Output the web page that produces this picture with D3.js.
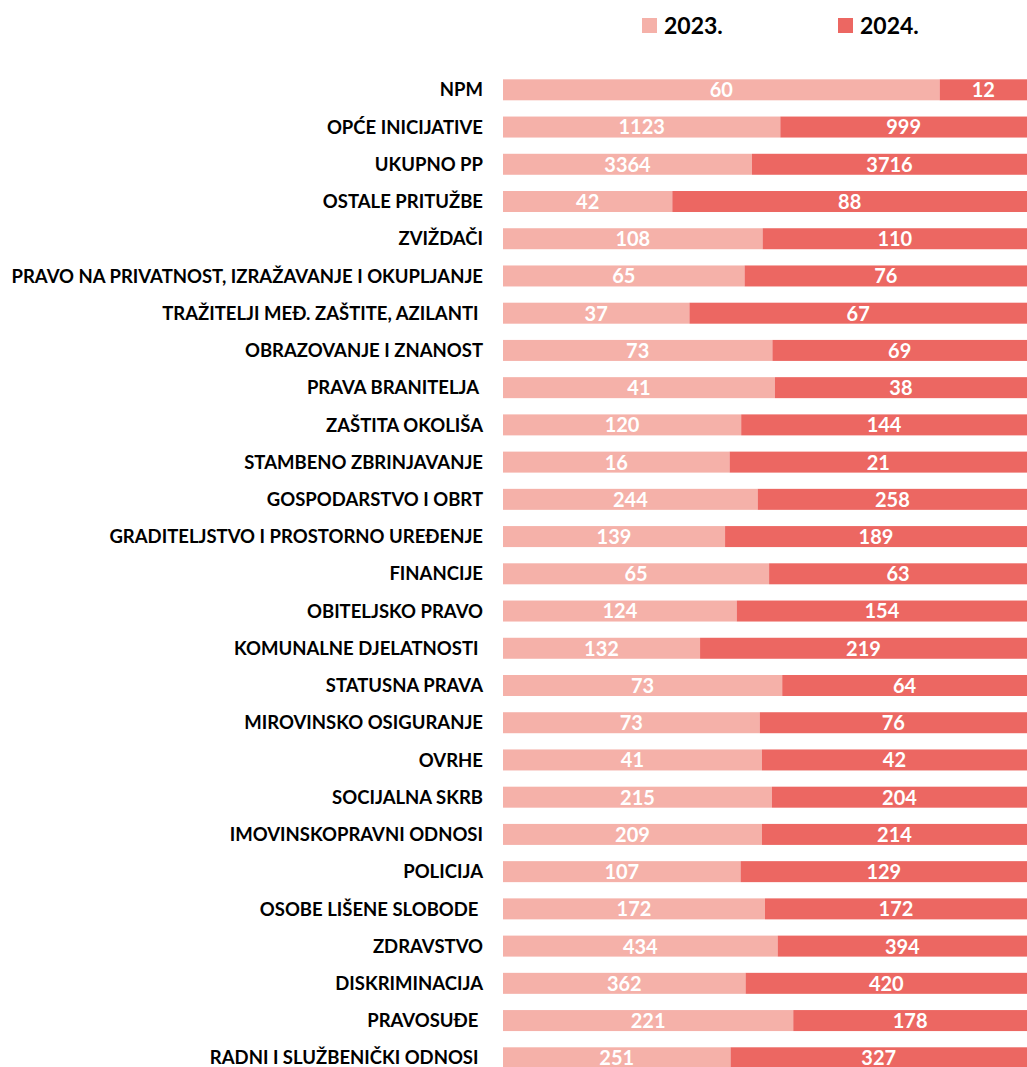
<!DOCTYPE html>
<html>
<head>
<meta charset="utf-8">
<script src="https://cdn.jsdelivr.net/npm/d3@7"></script>
<style>
  body { margin: 0; background: #fff; }
  text { font-family: Lato, "Open Sans", sans-serif; font-weight: bold; white-space: pre; }
</style>
</head>
<body>
<div id="chart"></div>
<script>
var categories = [
    "NPM", "OPĆE INICIJATIVE", "UKUPNO PP", "OSTALE PRITUŽBE", "ZVIŽDAČI",
    "PRAVO NA PRIVATNOST, IZRAŽAVANJE I OKUPLJANJE", "TRAŽITELJI MEĐ. ZAŠTITE, AZILANTI ",
    "OBRAZOVANJE I ZNANOST", "PRAVA BRANITELJA ", "ZAŠTITA OKOLIŠA", "STAMBENO ZBRINJAVANJE",
    "GOSPODARSTVO I OBRT", "GRADITELJSTVO I PROSTORNO UREĐENJE", "FINANCIJE", "OBITELJSKO PRAVO",
    "KOMUNALNE DJELATNOSTI ", "STATUSNA PRAVA", "MIROVINSKO OSIGURANJE", "OVRHE", "SOCIJALNA SKRB",
    "IMOVINSKOPRAVNI ODNOSI", "POLICIJA", "OSOBE LIŠENE SLOBODE ", "ZDRAVSTVO", "DISKRIMINACIJA",
    "PRAVOSUĐE ", "RADNI I SLUŽBENIČKI ODNOSI "
];
var values2023 = [60, 1123, 3364, 42, 108, 65, 37, 73, 41, 120, 16, 244, 139, 65, 124, 132, 73, 73, 41, 215, 209, 107, 172, 434, 362, 221, 251];
var values2024 = [12, 999, 3716, 88, 110, 76, 67, 69, 38, 144, 21, 258, 189, 63, 154, 219, 64, 76, 42, 204, 214, 129, 172, 394, 420, 178, 327];
var seriesNames = ["2023.", "2024."];
var colors = ["#F5B1A9", "#EC6762"];

function init() {
    var w = 1027;
    var h = 1067;

    var svg = d3.select("#chart")
        .append("svg")
        .attr("width", w)
        .attr("height", h);

    var rows = categories.map(function(c, i) {
        return { cat: c, "2023.": values2023[i], "2024.": values2024[i] };
    });

    var stacked = d3.stack()
        .keys(seriesNames)
        .offset(d3.stackOffsetExpand)(rows);

    var step = 37.23;
    var y = d3.scaleBand()
        .domain(categories)
        .range([71.2, 71.2 + categories.length * step])
        .paddingInner(0.436)
        .paddingOuter(0.218);

    var x = d3.scaleLinear()
        .domain([0, 1])
        .range([503, 1027]);

    var groups = svg.selectAll("g.series")
        .data(stacked)
        .enter()
        .append("g")
        .attr("class", "series")
        .attr("fill", function(d, i) { return colors[i]; });

    groups.selectAll("rect")
        .data(function(d) { return d; })
        .enter()
        .append("rect")
        .attr("x", function(d) { return x(d[0]); })
        .attr("y", function(d) { return y(d.data.cat); })
        .attr("width", function(d) { return x(d[1]) - x(d[0]); })
        .attr("height", y.bandwidth());

    stacked.forEach(function(s) {
        svg.append("g")
            .selectAll("text")
            .data(s)
            .enter()
            .append("text")
            .text(function(d) { return d.data[s.key]; })
            .attr("x", function(d) { return (x(d[0]) + x(d[1])) / 2; })
            .attr("y", function(d) { return y(d.data.cat) + y.bandwidth() / 2; })
            .attr("dy", "0.37em")
            .attr("text-anchor", "middle")
            .attr("fill", "#fff")
            .style("font-size", "20px");
    });

    // category labels
    svg.append("g")
        .selectAll("text")
        .data(categories)
        .enter()
        .append("text")
        .text(function(d) { return d; })
        .attr("x", 483)
        .attr("y", function(d) { return y(d) + y.bandwidth() / 2; })
        .attr("dy", "0.36em")
        .attr("text-anchor", "end")
        .attr("fill", "#000")
        .style("font-size", "18.5px");

    // legend
    var legendX = [642, 838];
    var legend = svg.selectAll("g.legend")
        .data(seriesNames)
        .enter()
        .append("g")
        .attr("class", "legend")
        .attr("transform", function(d, i) { return "translate(" + legendX[i] + ",18)"; });

    legend.append("rect")
        .attr("width", 15)
        .attr("height", 15)
        .attr("fill", function(d, i) { return colors[i]; });

    legend.append("text")
        .text(function(d) { return d; })
        .attr("x", 22)
        .attr("y", 7.5)
        .attr("dy", "0.36em")
        .attr("fill", "#000")
        .style("font-size", "23px");
}

window.onload = init;
</script>
</body>
</html>
